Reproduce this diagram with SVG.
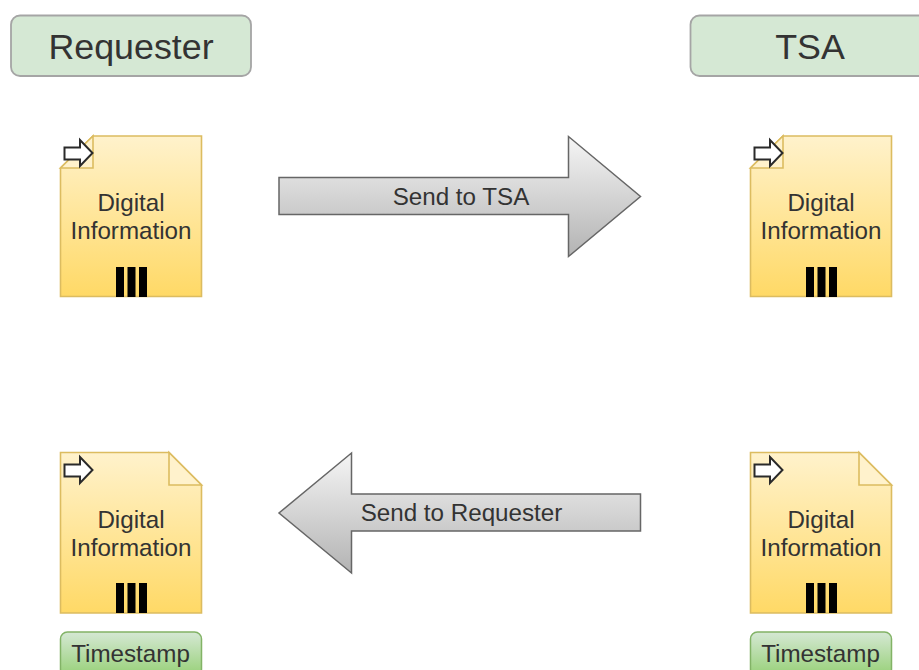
<svg xmlns="http://www.w3.org/2000/svg" width="919" height="670" viewBox="0 0 919 670">
<style>
text{font-family:"Liberation Sans",Arial,sans-serif;text-anchor:middle;fill:#333}
.hd{fill:#d5e8d4;stroke:#a5a5a5;stroke-width:1.8}
.hdt{font-size:35.800px}
.doc{fill:url(#yl);stroke:#dcbc60;stroke-width:1.6}
.fold{fill:#fff2cc;stroke:#dcbc60;stroke-width:1.6}
.t{font-size:24.200px}
.ico{fill:#fff;stroke:#2a2a2a;stroke-width:2;stroke-linejoin:miter}
.bar{fill:#000}
.ts{fill:url(#gr);stroke:#82b366;stroke-width:1.500}
.arr{fill:url(#gy);stroke:#666;stroke-width:1.500}
</style>
<defs>
<linearGradient id="yl" x1="0" y1="0" x2="0" y2="1"><stop offset="0" stop-color="#fff2cc"/><stop offset="1" stop-color="#ffd966"/></linearGradient>
<linearGradient id="gr" x1="0" y1="0" x2="0" y2="1"><stop offset="0" stop-color="#d5e8d4"/><stop offset="1" stop-color="#97d077"/></linearGradient>
<linearGradient id="gy" x1="0" y1="0" x2="0" y2="1"><stop offset="0" stop-color="#f5f5f5"/><stop offset="1" stop-color="#b3b3b3"/></linearGradient>
<g id="icon"><path class="ico" d="M4.500 11.500H20V4L32.500 17L20 30V23.500H4.500Z"/></g>
<g id="bars"><rect class="bar" x="116" width="8" height="30"/><rect class="bar" x="127.500" width="8" height="30"/><rect class="bar" x="139" width="8" height="30"/></g>
</defs>
<rect width="919" height="670" fill="#fff"/>
<g id="requester"><rect class="hd" x="11" y="15.500" width="240" height="60.500" rx="9"/><text class="hdt" x="131" y="59">Requester</text></g>
<g id="tsa"><rect class="hd" x="690.500" y="15.500" width="240" height="60.500" rx="9"/><text class="hdt" x="810" y="59">TSA</text></g>
<g id="doc-requester-top"><path class="doc" d="M60.500 296.500V168L93 136H201.500V296.500Z"/><path class="fold" d="M60.500 168H93V136Z"/><use href="#icon" x="60" y="136"/><use href="#bars" y="267"/><text class="t" x="131" y="211">Digital</text><text class="t" x="131" y="239">Information</text></g>
<g id="doc-tsa-top"><path class="doc" d="M750.500 296.500V168L783 136H891.500V296.500Z"/><path class="fold" d="M750.500 168H783V136Z"/><use href="#icon" x="750" y="136"/><use href="#bars" x="690" y="267"/><text class="t" x="821" y="211">Digital</text><text class="t" x="821" y="239">Information</text></g>
<g id="doc-requester-bottom"><path class="doc" d="M60.500 613V452.500H169L201.500 485V613Z"/><path class="fold" d="M169 452.500V485H201.500Z"/><use href="#icon" x="60" y="453"/><use href="#bars" y="583"/><text class="t" x="131" y="528">Digital</text><text class="t" x="131" y="556">Information</text></g>
<g id="doc-tsa-bottom"><path class="doc" d="M750.500 613V452.500H859L891.500 485V613Z"/><path class="fold" d="M859 452.500V485H891.500Z"/><use href="#icon" x="750" y="453"/><use href="#bars" x="690" y="583"/><text class="t" x="821" y="528">Digital</text><text class="t" x="821" y="556">Information</text></g>
<g id="timestamp-requester"><rect class="ts" x="60.500" y="632" width="141" height="44" rx="7"/><text class="t" x="130.500" y="662">Timestamp</text></g>
<g id="timestamp-tsa"><rect class="ts" x="750.500" y="632" width="141" height="44" rx="7"/><text class="t" x="820.500" y="662">Timestamp</text></g>
<g id="connectors">
<path class="arr" d="M279 177.500H568.500V136.500L640.500 196.500L568.500 256.500V214.500H279Z"/>
<text class="t" x="461" y="205">Send to TSA</text>
<path class="arr" d="M640.500 494H351.500V453L279 513L351.500 573V531H640.500Z"/>
<text class="t" x="461.500" y="521">Send to Requester</text>
</g>
</svg>
